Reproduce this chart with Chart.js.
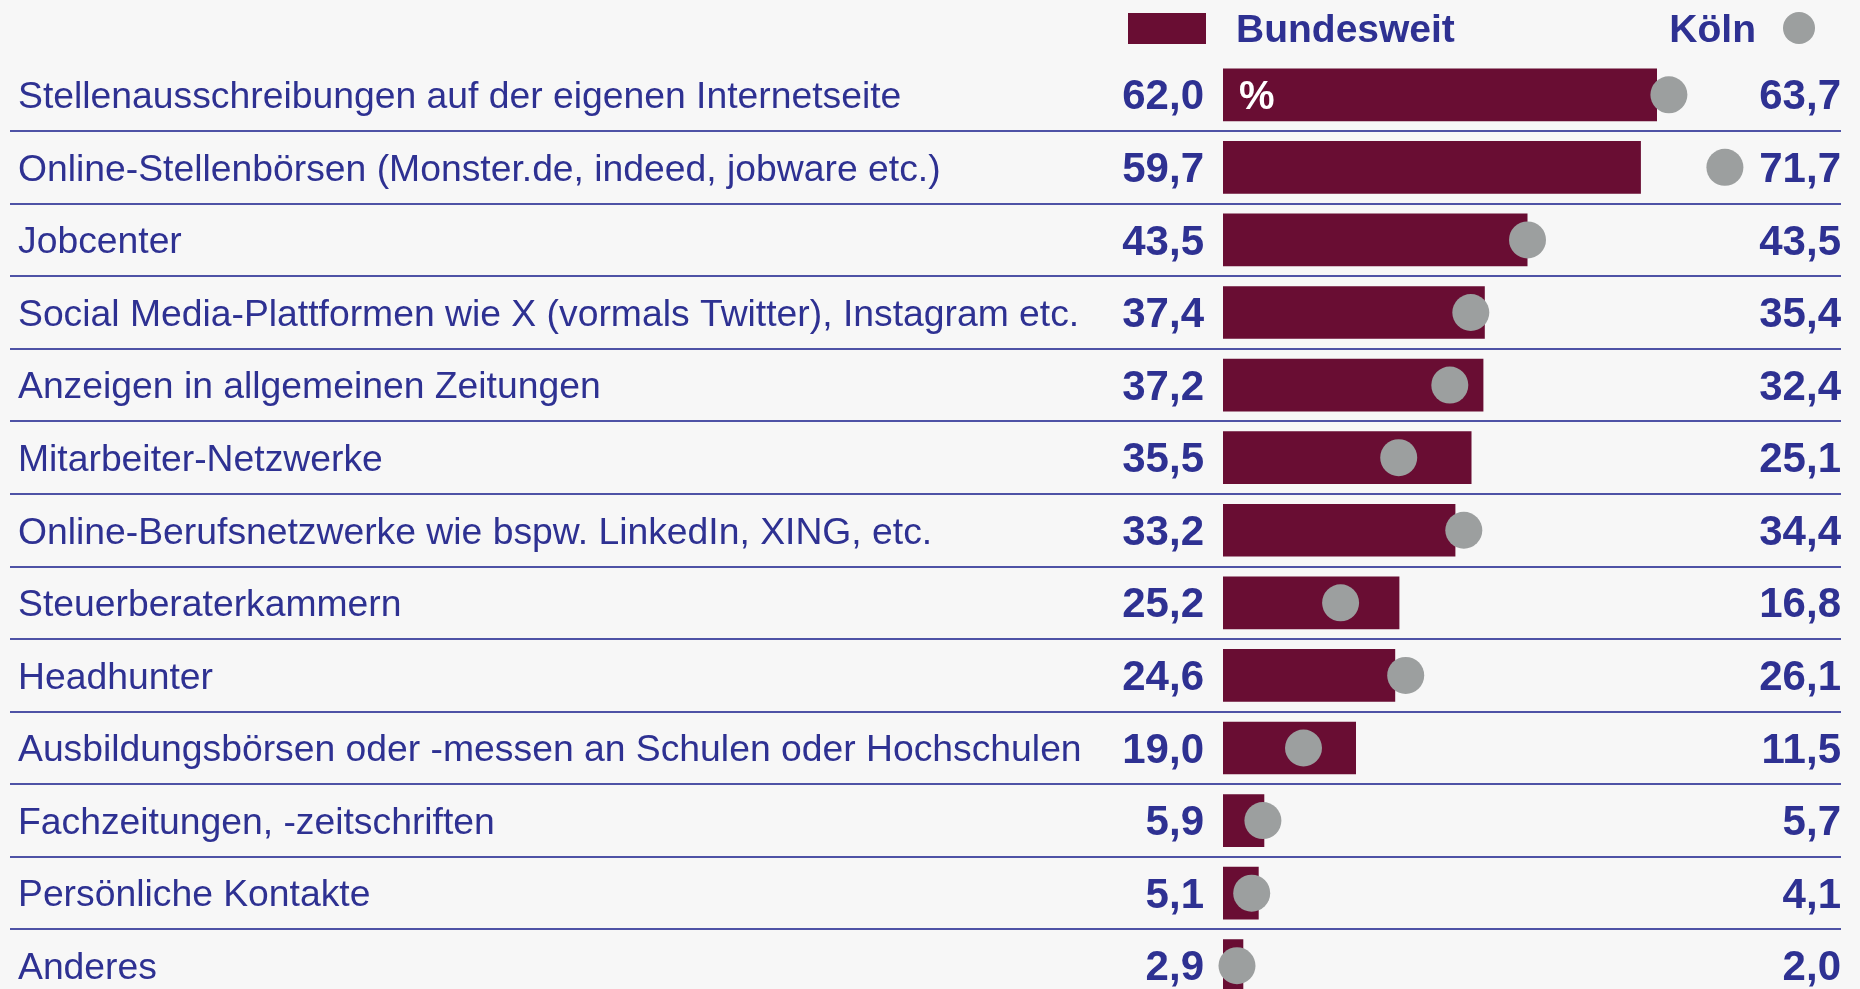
<!DOCTYPE html>
<html lang="de">
<head>
<meta charset="utf-8">
<title>Rekrutierungswege – Bundesweit und Köln</title>
<script src="https://cdn.jsdelivr.net/npm/chart.js@4.4.1/dist/chart.umd.min.js"></script>
<style>
  html, body { margin: 0; padding: 0; background: #f7f7f7; overflow: hidden; }
  #wrap { width: 1860px; height: 1040px; }
</style>
</head>
<body>
<div id="wrap"><canvas id="chart" width="1860" height="1040"></canvas></div>
<script>
// values (percent)
const categories = [
    'Stellenausschreibungen auf der eigenen Internetseite',
    'Online-Stellenbörsen (Monster.de, indeed, jobware etc.)',
    'Jobcenter',
    'Social Media-Plattformen wie X (vormals Twitter), Instagram etc.',
    'Anzeigen in allgemeinen Zeitungen',
    'Mitarbeiter-Netzwerke',
    'Online-Berufsnetzwerke wie bspw. LinkedIn, XING, etc.',
    'Steuerberaterkammern',
    'Headhunter',
    'Ausbildungsbörsen oder -messen an Schulen oder Hochschulen',
    'Fachzeitungen, -zeitschriften',
    'Persönliche Kontakte',
    'Anderes'
];
const bundesweit = [62.0, 59.7, 43.5, 37.4, 37.2, 35.5, 33.2, 25.2, 24.6, 19.0, 5.9, 5.1, 2.9];
const koeln = [63.7, 71.7, 43.5, 35.4, 32.4, 25.1, 34.4, 16.8, 26.1, 11.5, 5.7, 4.1, 2.0];
const seriesNames = ['Bundesweit', 'Köln'];
const unitLabel = '%';

const NAVY = '#2e3192';
const MAROON = '#690d33';
const GREY = '#9c9f9f';
const FONT = "'Liberation Sans', Arial, Helvetica, sans-serif";

Chart.defaults.font.family = FONT;

function fmt(v) {
    return v.toFixed(1).replace('.', ',');
}

// separators, value columns, the % mark and the legend row
const tableDecor = {
    id: 'tableDecor',
    beforeDatasetsDraw(chart) {
        const ctx = chart.ctx;
        const y = chart.scales.y;
        ctx.save();
        ctx.strokeStyle = '#4f53a6';
        ctx.lineWidth = 2;
        for (let i = 0; i < categories.length - 1; i++) {
            const yy = Math.round((y.getPixelForValue(i) + y.getPixelForValue(i + 1)) / 2);
            ctx.beginPath();
            ctx.moveTo(10, yy);
            ctx.lineTo(chart.width - 19, yy);
            ctx.stroke();
        }
        ctx.restore();
    },
    afterDatasetsDraw(chart) {
        const ctx = chart.ctx;
        const x = chart.scales.x;
        const y = chart.scales.y;
        const rightEdge = chart.width - 19;
        ctx.save();
        ctx.fillStyle = NAVY;
        ctx.font = 'bold 42px ' + FONT;
        ctx.textBaseline = 'middle';
        categories.forEach((c, i) => {
            const yy = y.getPixelForValue(i) + 3;
            ctx.textAlign = 'right';
            ctx.fillText(fmt(bundesweit[i]), x.left - 19, yy);
            ctx.fillText(fmt(koeln[i]), rightEdge, yy);
        });

        // unit inside the first bar
        ctx.fillStyle = '#ffffff';
        ctx.textAlign = 'left';
        ctx.font = 'bold 40px ' + FONT;
        ctx.fillText(unitLabel, x.left + 16, y.getPixelForValue(0) + 3);

        // legend row
        ctx.fillStyle = MAROON;
        ctx.fillRect(1128, 13, 78, 31);
        ctx.fillStyle = NAVY;
        ctx.font = 'bold 39px ' + FONT;
        ctx.textBaseline = 'alphabetic';
        ctx.textAlign = 'left';
        ctx.fillText(seriesNames[0], 1236, 42);
        ctx.textAlign = 'right';
        ctx.fillText(seriesNames[1], 1756, 42);
        ctx.fillStyle = GREY;
        ctx.beginPath();
        ctx.arc(1799, 28, 16, 0, Math.PI * 2);
        ctx.fill();
        ctx.restore();
    }
};

new Chart(document.getElementById('chart'), {
    type: 'bar',
    data: {
        labels: categories,
        datasets: [
            {
                type: 'line',
                label: seriesNames[1],
                data: koeln,
                indexAxis: 'y',
                showLine: false,
                pointRadius: 18.5,
                pointHoverRadius: 18.5,
                pointBackgroundColor: GREY,
                pointBorderWidth: 0,
                clip: false,
                order: 0
            },
            {
                label: seriesNames[0],
                data: bundesweit,
                backgroundColor: MAROON,
                barPercentage: 0.726,
                categoryPercentage: 1,
                order: 1
            }
        ]
    },
    options: {
        indexAxis: 'y',
        responsive: false,
        animation: false,
        events: [],
        layout: { autoPadding: false, padding: { left: 18, right: 21, top: 58.5, bottom: 38 } },
        scales: {
            x: { display: false, min: 0, max: 88 },
            y: {
                border: { display: false },
                grid: { display: false },
                ticks: {
                    crossAlign: 'far',
                    padding: 0,
                    labelOffset: 3,
                    color: NAVY,
                    autoSkip: false,
                    font: { size: 37.3 }
                },
                afterFit(scale) { scale.width = 1205; }
            }
        },
        plugins: {
            legend: { display: false },
            tooltip: { enabled: false }
        }
    },
    plugins: [tableDecor]
});
</script>
</body>
</html>
